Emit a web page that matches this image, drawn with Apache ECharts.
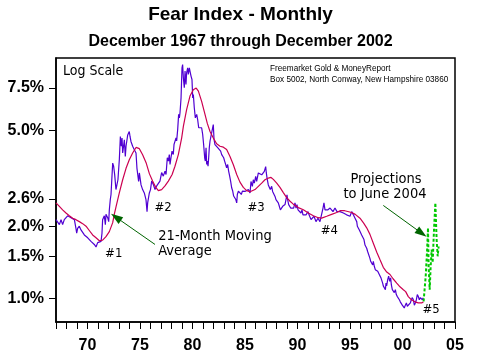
<!DOCTYPE html>
<html><head><meta charset="utf-8">
<script src="https://cdn.jsdelivr.net/npm/echarts@6/dist/echarts.min.js"></script>
<style>html,body{margin:0;padding:0;background:#fff}#c{width:481px;height:364px}</style>
</head><body><div id="c"></div><script>
// ---- tick labels ----
const yTickValues = [1.0, 1.5, 2.0, 2.6, 5.0, 7.5];
const yTickLabels = ['1.0%', '1.5%', '2.0%', '2.6%', '5.0%', '7.5%'];
const xLabelYears = [1970, 1975, 1980, 1985, 1990, 1995, 2000, 2005];
const xLabelTexts = ['70', '75', '80', '85', '90', '95', '00', '05'];

// ---- monthly fear index (% , decimal year as plotted) ----
const monthlyIndex = [
[1967.00,2.13],[1967.16,2.17],[1967.32,2.03],[1967.48,2.13],[1967.63,2.03],[1967.79,2.13],[1967.95,2.17],[1968.11,2.21],[1968.27,2.24],[1968.43,2.17],[1968.59,2.21],[1968.75,2.13],[1968.90,1.96],[1968.97,1.87],[1969.06,1.96],[1969.22,2.00],[1969.38,1.93],[1969.54,1.90],[1969.70,1.84],[1969.86,1.87],[1970.02,1.79],[1970.17,1.76],[1970.33,1.73],[1970.49,1.71],[1970.65,1.68],[1970.81,1.64],[1970.97,1.71],[1971.13,1.68],[1971.29,1.73],[1971.38,1.87],[1971.44,2.13],[1971.60,2.21],[1971.70,2.03],[1971.76,2.24],[1971.92,2.17],[1972.02,2.09],[1972.08,2.34],[1972.17,2.58],[1972.24,2.71],[1972.33,3.22],[1972.40,3.66],[1972.49,3.55],[1972.59,3.27],[1972.71,2.84],[1972.81,2.88],[1972.90,3.12],[1973.03,3.78],[1973.13,4.72],[1973.22,4.30],[1973.29,4.65],[1973.35,4.03],[1973.51,4.57],[1973.60,3.90],[1973.67,4.30],[1973.83,4.79],[1973.92,4.87],[1973.98,4.95],[1974.05,4.72],[1974.14,4.50],[1974.30,4.30],[1974.46,4.16],[1974.62,4.03],[1974.71,3.48],[1974.81,3.43],[1974.87,3.07],[1974.94,3.33],[1975.10,2.97],[1975.25,2.84],[1975.41,2.75],[1975.57,2.58],[1975.67,2.30],[1975.73,2.50],[1975.89,2.75],[1976.00,2.84],
[1976.11,3.08],[1976.27,2.98],[1976.43,2.84],[1976.59,2.94],[1976.75,2.98],[1976.90,3.08],[1977.06,3.34],[1977.22,3.23],[1977.38,3.39],[1977.48,3.28],[1977.60,3.85],[1977.70,3.73],[1977.79,3.97],[1977.86,3.61],[1977.95,3.85],[1978.05,4.10],[1978.17,3.97],[1978.24,4.37],[1978.33,4.30],[1978.43,4.66],[1978.49,4.52],[1978.59,5.05],[1978.68,5.83],[1978.75,5.64],[1978.81,5.92],[1978.91,6.83],[1979.00,9.10],[1979.06,9.39],[1979.13,8.27],[1979.22,7.52],[1979.29,8.82],[1979.38,7.76],[1979.44,8.68],[1979.54,9.10],[1979.60,8.54],[1979.70,9.10],[1979.76,8.82],[1979.86,8.41],[1979.95,8.14],[1980.02,6.83],[1980.08,7.05],[1980.17,6.21],[1980.27,5.64],[1980.40,5.83],[1980.49,5.55],[1980.59,5.13],[1980.68,5.21],[1980.78,5.05],[1980.87,5.13],[1980.97,4.81],[1981.06,4.37],[1981.16,3.85],[1981.22,3.73],[1981.29,4.24],[1981.35,3.61],[1981.41,3.73],[1981.48,3.55],[1981.54,3.85],[1981.60,4.24],[1981.67,4.52],[1981.76,4.74],[1981.86,4.66],[1981.92,4.81],[1981.98,5.29],[1982.05,4.59],[1982.14,4.37],[1982.24,4.30],[1982.30,4.44],[1982.40,4.24],[1982.49,4.30],[1982.59,4.24],[1982.68,4.10],[1982.78,3.97],[1982.87,4.04],[1982.97,3.85],[1983.06,3.73],[1983.16,3.61],[1983.25,3.50],[1983.35,3.61],[1983.44,3.39],[1983.54,3.23],[1983.63,3.08],[1983.73,2.89],[1983.83,2.80],[1983.92,2.67],[1984.02,2.71],[1984.11,2.59],[1984.21,2.50],[1984.27,2.71],[1984.37,2.80],[1984.46,2.75],[1984.56,2.84],[1984.65,2.71],[1984.75,2.80],[1984.84,2.75],[1984.94,2.84],
[1985.00,2.79],[1985.16,2.75],[1985.32,2.84],[1985.48,2.75],[1985.57,3.07],[1985.70,2.93],[1985.79,3.12],[1985.89,3.02],[1986.02,3.22],[1986.11,3.07],[1986.27,3.33],[1986.37,3.27],[1986.46,3.38],[1986.59,3.27],[1986.75,3.33],[1986.84,3.38],[1986.97,3.54],[1987.03,3.33],[1987.10,3.17],[1987.22,2.97],[1987.32,3.02],[1987.41,2.84],[1987.54,2.93],[1987.63,2.79],[1987.73,2.75],[1987.86,2.66],[1987.95,2.58],[1988.05,2.54],[1988.17,2.50],[1988.27,2.42],[1988.37,2.34],[1988.49,2.38],[1988.59,2.42],[1988.68,2.38],[1988.81,2.46],[1988.90,2.58],[1989.00,2.70],[1989.06,2.58],[1989.16,2.46],[1989.25,2.50],[1989.35,2.38],[1989.44,2.42],[1989.54,2.34],[1989.63,2.38],[1989.76,2.50],[1989.86,2.38],[1989.95,2.46],[1990.05,2.34],[1990.14,2.38],[1990.24,2.30],[1990.33,2.27],[1990.43,2.34],[1990.52,2.23],[1990.62,2.27],[1990.71,2.20],[1990.81,2.23],[1990.90,2.27],[1991.00,2.30],[1991.10,2.23],[1991.19,2.20],[1991.29,2.13],[1991.38,2.16],[1991.48,2.13],[1991.57,2.20],[1991.67,2.16],[1991.76,2.09],[1991.86,2.13],[1991.95,2.16],[1992.05,2.13],[1992.14,2.09],[1992.24,2.06],[1992.33,2.13],[1992.43,2.38],[1992.52,2.50],[1992.62,2.34],[1992.71,2.30],[1992.81,2.38],[1992.90,2.34],[1993.00,2.30],[1993.10,2.38],[1993.19,2.34],[1993.29,2.36],[1993.38,2.30],[1993.48,2.34],[1993.57,2.38],[1993.67,2.34],[1993.76,2.30],[1993.86,2.27],[1993.95,2.30],
[1994.05,2.30],[1994.21,2.32],[1994.37,2.27],[1994.52,2.30],[1994.68,2.23],[1994.84,2.27],[1995.00,2.20],[1995.16,2.30],[1995.32,2.23],[1995.48,2.16],[1995.64,2.09],[1995.70,2.00],[1995.79,2.03],[1995.89,1.93],[1996.02,1.90],[1996.11,1.84],[1996.21,1.81],[1996.33,1.76],[1996.43,1.67],[1996.52,1.65],[1996.59,1.62],[1996.68,1.57],[1996.78,1.60],[1996.90,1.47],[1996.97,1.43],[1997.06,1.45],[1997.16,1.38],[1997.22,1.43],[1997.32,1.36],[1997.41,1.32],[1997.54,1.32],[1997.64,1.30],[1997.73,1.28],[1997.79,1.26],[1997.86,1.24],[1997.95,1.22],[1998.05,1.20],[1998.11,1.16],[1998.17,1.13],[1998.27,1.13],[1998.37,1.09],[1998.43,1.16],[1998.49,1.13],[1998.59,1.20],[1998.68,1.24],[1998.78,1.18],[1998.87,1.22],[1998.94,1.14],[1999.03,1.09],[1999.13,1.07],[1999.22,1.06],[1999.32,1.09],[1999.41,1.04],[1999.51,1.02],[1999.60,1.01],[1999.70,0.99],[1999.79,0.97],[1999.89,0.96],[1999.98,0.94],[2000.08,0.93],[2000.17,0.915],[2000.27,0.94],[2000.37,0.96],[2000.46,0.93],[2000.56,0.915],[2000.65,0.94],[2000.75,0.96],[2000.84,0.99],[2000.94,1.01],[2001.03,0.99],[2001.13,0.94],[2001.22,0.96],[2001.32,0.99],[2001.41,1.04],[2001.51,1.02],[2001.60,0.99],[2001.70,1.01],[2001.79,1.02],[2001.89,0.99],[2001.98,1.01]
];

// ---- 21-month moving average ----
const movingAverage21 = [
[1967.00,2.50],[1967.32,2.42],[1967.63,2.34],[1967.95,2.27],[1968.27,2.21],[1968.59,2.16],[1968.90,2.13],[1969.22,2.09],[1969.54,2.05],[1969.86,2.00],[1970.17,1.92],[1970.49,1.84],[1970.81,1.79],[1971.13,1.74],[1971.29,1.73],[1971.44,1.75],[1971.76,1.81],[1972.08,1.90],[1972.40,2.07],[1972.56,2.25],[1972.71,2.40],[1973.03,2.75],[1973.35,3.12],[1973.67,3.48],[1973.98,3.78],[1974.30,4.03],[1974.62,4.25],[1974.80,4.28],[1974.94,4.20],[1975.25,3.96],[1975.60,3.65],[1975.90,3.30],[1976.20,3.08],[1976.50,2.90],[1976.75,2.81],[1977.06,2.84],[1977.38,2.94],[1977.70,3.08],[1978.06,3.28],[1978.33,3.55],[1978.65,3.97],[1978.97,4.66],[1979.13,5.20],[1979.44,6.10],[1979.76,6.95],[1980.08,7.38],[1980.35,7.50],[1980.56,7.28],[1980.87,6.60],[1981.19,5.83],[1981.41,5.35],[1981.67,4.95],[1981.98,4.65],[1982.30,4.40],[1982.62,4.30],[1982.94,4.26],[1983.25,4.17],[1983.57,3.90],[1983.89,3.60],[1984.21,3.28],[1984.52,3.05],[1984.84,2.90],[1985.16,2.81],[1985.48,2.78],[1985.63,2.79],[1985.95,2.84],[1986.27,2.93],[1986.59,3.02],[1986.90,3.12],[1987.22,3.17],[1987.48,3.19],[1987.70,3.13],[1988.02,3.02],[1988.33,2.90],[1988.65,2.76],[1988.97,2.63],[1989.29,2.54],[1989.60,2.47],[1990.08,2.39],[1990.56,2.34],[1991.03,2.27],[1991.51,2.21],[1991.98,2.17],[1992.30,2.16],[1992.78,2.20],[1993.25,2.24],[1993.73,2.28],[1994.05,2.32],[1994.50,2.32],[1995.16,2.28],[1995.50,2.24],[1995.95,2.16],[1996.30,2.06],[1996.59,1.97],[1996.90,1.85],[1997.22,1.70],[1997.55,1.56],[1997.86,1.45],[1998.17,1.35],[1998.50,1.29],[1998.81,1.26],[1999.10,1.21],[1999.45,1.16],[1999.76,1.12],[2000.08,1.09],[2000.30,1.07],[2000.55,1.02],[2000.85,0.99],[2001.19,0.97],[2001.50,0.96],[2001.83,0.96],[2002.00,0.97]
];

// ---- projections to June 2004 ----
const projection = [
[2002.01,0.975],[2002.21,1.24],[2002.33,1.55],[2002.43,1.97],[2002.49,1.36],[2002.59,1.09],[2002.68,1.36],[2002.78,1.60],[2002.87,1.41],[2003.00,1.93],[2003.13,2.50],[2003.25,1.76],[2003.35,1.50],[2003.44,1.65]
];

// ---- annotation arrows (data coords: from -> tip) ----
const arrowMA = [[1976.43,1.68],[1972.71,2.18]];
const arrowProj = [[1998.17,2.44],[2001.83,1.87]];

const ANNO = '"DejaVu Sans Condensed","DejaVu Sans",sans-serif';
const ARIAL = '"Liberation Sans",Arial,sans-serif';

function txt(x, y, text, font, align) {
  return {type:'text', x:x, y:y, silent:true, z:100,
    style:{text:text, font:font, fill:'#000', align:align||'left', verticalAlign:'middle',
           textAlign:align||'left', textVerticalAlign:'middle'}};
}

const chart = echarts.init(document.getElementById('c'), null, {renderer:'canvas'});
chart.setOption({
  animation:false,
  backgroundColor:'#fff',
  grid:{left:56, right:26, top:58, bottom:42, show:true, borderColor:'#000', borderWidth:1.5, backgroundColor:'transparent'},
  xAxis:{
    type:'value', min:1967, max:2005, interval:1,
    axisLine:{show:true, lineStyle:{color:'#000', width:1.5}},
    axisTick:{show:true, inside:false, length:7, lineStyle:{color:'#000', width:1}},
    axisLabel:{customValues:xLabelYears, margin:16, color:'#000', fontSize:16, fontWeight:'bold', fontFamily:ARIAL,
      formatter:function(v){ const i = xLabelYears.indexOf(Math.round(v)); return i>=0 ? xLabelTexts[i] : ''; }},
    splitLine:{show:false}
  },
  yAxis:{
    type:'log', logBase:10, min:0.8, max:10,
    axisLine:{show:true, lineStyle:{color:'#000', width:1.5}},
    axisTick:{show:true, customValues:yTickValues, length:7, lineStyle:{color:'#000', width:1}},
    minorTick:{show:false},
    axisLabel:{customValues:yTickValues, margin:12, color:'#000', fontSize:16, fontWeight:'bold', fontFamily:ARIAL,
      formatter:function(v){ let bi=0; for(let i=0;i<yTickValues.length;i++){ if(Math.abs(yTickValues[i]-v)<Math.abs(yTickValues[bi]-v)) bi=i; } return yTickLabels[bi]; }},
    splitLine:{show:false}, minorSplitLine:{show:false}
  },
  series:[
    {type:'line', name:'Monthly', data:monthlyIndex, showSymbol:false, symbol:'none',
     lineStyle:{color:'#5000d2', width:1.2}, z:2},
    {type:'line', name:'21-Month Moving Average', data:movingAverage21, showSymbol:false, symbol:'none', smooth:false,
     lineStyle:{color:'#cc0050', width:1.2}, z:3,
     markLine:{silent:true, symbol:['none','triangle'], symbolSize:[8,12], animation:false,
       label:{show:false}, emphasis:{disabled:true},
       lineStyle:{color:'#006400', width:1, type:'solid'},
       data:[
         [{coord:arrowMA[0]},{coord:arrowMA[1]}],
         [{coord:arrowProj[0]},{coord:arrowProj[1]}]
       ]}},
    {type:'line', name:'Projection', data:projection, showSymbol:false, symbol:'none',
     lineStyle:{color:'#00c800', width:2, type:[3,2]}, z:4}
  ],
  graphic:[
    txt(240.5, 14.5, 'Fear Index - Monthly', 'bold 19px '+ARIAL, 'center'),
    txt(240.5, 41.5, 'December 1967 through December 2002', 'bold 16px '+ARIAL, 'center'),
    txt(63, 71.5, 'Log Scale', '14px '+ANNO),
    txt(270, 69, 'Freemarket Gold & MoneyReport', '8.2px '+ARIAL),
    txt(270, 80, 'Box 5002, North Conway, New Hampshire 03860', '8.2px '+ARIAL),
    txt(113.7, 253.3, '#1', '13px '+ANNO, 'center'),
    txt(163, 207.7, '#2', '13px '+ANNO, 'center'),
    txt(256, 207.3, '#3', '13px '+ANNO, 'center'),
    txt(329.3, 230.7, '#4', '13px '+ANNO, 'center'),
    txt(431, 309.3, '#5', '13px '+ANNO, 'center'),
    txt(158.3, 236, '21-Month Moving', '14.5px '+ANNO),
    txt(158.3, 251.7, 'Average', '14.5px '+ANNO),
    txt(386, 179.3, 'Projections', '14.5px '+ANNO, 'center'),
    txt(385, 194.3, 'to June 2004', '14.5px '+ANNO, 'center')
  ]
});
</script></body></html>
